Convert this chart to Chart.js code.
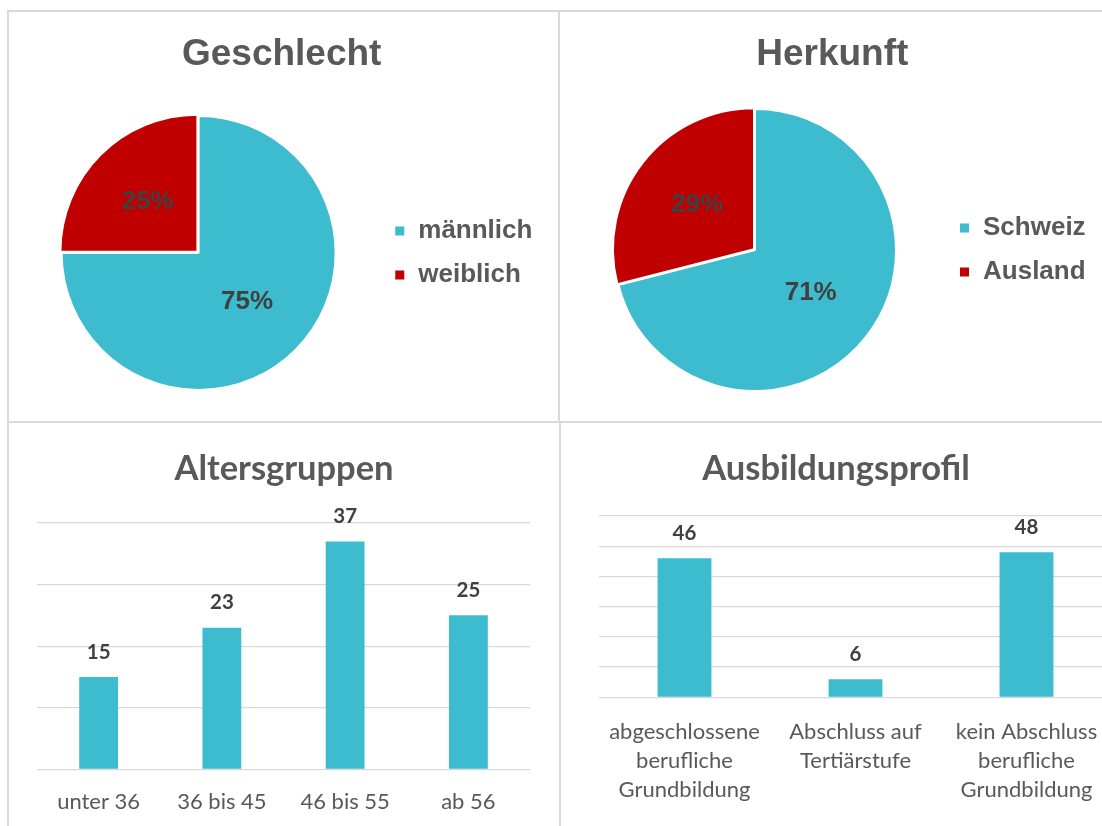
<!DOCTYPE html>
<html>
<head>
<meta charset="utf-8">
<script src="https://cdn.jsdelivr.net/npm/chart.js@4.4.1/dist/chart.umd.min.js"></script>
<style>
  html, body { margin: 0; padding: 0; background: #fff; overflow: hidden; width: 1102px; height: 826px; }
  .box { position: absolute; }
  .line { position: absolute; background: #d9d9d9; }
</style>
</head>
<body>
<div class="line" style="left:8px;top:10px;width:1094px;height:2px"></div>
<div class="line" style="left:7px;top:10px;width:2px;height:816px"></div>
<div class="line" style="left:558px;top:10px;width:2px;height:412px"></div>
<div class="line" style="left:559px;top:422px;width:2px;height:404px"></div>
<div class="line" style="left:8px;top:421px;width:1094px;height:2px"></div>

<div class="box" style="left:9px;top:12px;width:550px;height:410px"><canvas id="geschlecht"></canvas></div>
<div class="box" style="left:561px;top:12px;width:550px;height:410px"><canvas id="herkunft"></canvas></div>
<div class="box" style="left:9px;top:424px;width:550px;height:402px"><canvas id="alter"></canvas></div>
<div class="box" style="left:560px;top:424px;width:552px;height:402px"><canvas id="ausbildung"></canvas></div>

<script>
const TEAL = '#3dbbcf';
const RED = '#c00000';

const geschlechtLabels = ['männlich', 'weiblich'];
const geschlechtValues = [75, 25];
const herkunftLabels = ['Schweiz', 'Ausland'];
const herkunftValues = [71, 29];

const altersLabels = ['unter 36', '36 bis 45', '46 bis 55', 'ab 56'];
const altersValues = [15, 23, 37, 25];
const ausbildungLabels = [
    ['abgeschlossene', 'berufliche', 'Grundbildung'],
    ['Abschluss auf', 'Tertiärstufe'],
    ['kein Abschluss', 'berufliche', 'Grundbildung']
];
const ausbildungValues = [46, 6, 48];

// draws the numbers on the slices / above the bars
const valueLabels = {
    id: 'valueLabels',
    afterDatasetsDraw(chart, args, opts) {
        let ctx = chart.ctx;
        let meta = chart.getDatasetMeta(0);
        let data = chart.data.datasets[0].data;
        ctx.save();
        ctx.font = opts.font;
        ctx.fillStyle = opts.color;
        ctx.textAlign = 'center';
        ctx.textBaseline = 'middle';
        meta.data.forEach((el, i) => {
            let p;
            if (chart.config.type === 'pie') {
                p = el.tooltipPosition();
            } else {
                p = {x: el.x, y: el.y - opts.gap};
            }
            ctx.fillText(data[i] + (opts.suffix || ''), p.x, p.y);
        });
        ctx.restore();
    }
};

function pieChart(id, title, labels, values, radius, offset, titleBottom, padLeft, padRight) {
    let ctx = document.getElementById(id).getContext('2d');
    return new Chart(ctx, {
        type: 'pie',
        data: {
            labels: labels,
            datasets: [{
                data: values,
                backgroundColor: [TEAL, RED],
                borderColor: '#ffffff',
                borderWidth: 2,
                offset: [0, offset]
            }]
        },
        options: {
            responsive: true,
            maintainAspectRatio: false,
            animation: false,
            events: [],
            radius: radius,
            layout: {padding: {top: 0, bottom: 0, left: padLeft, right: padRight}},
            plugins: {
                title: {
                    display: true,
                    text: title,
                    color: '#595959',
                    font: {family: 'Liberation Sans', size: 37, weight: 'bold'},
                    padding: {top: 20.8, bottom: titleBottom}
                },
                legend: {
                    position: 'right',
                    fullSize: false,
                    labels: {
                        boxWidth: 11,
                        boxHeight: 11,
                        padding: 18,
                        color: '#595959',
                        font: {family: 'Liberation Sans', size: 26, weight: 'bold'}
                    }
                },
                tooltip: {enabled: false},
                valueLabels: {font: 'bold 26px "Liberation Sans"', color: '#404040', suffix: '%'}
            }
        },
        plugins: [valueLabels]
    });
}

function barChart(id, title, labels, values, max, leftW, rightW, bottom, titleBottom, tickPad) {
    let ctx = document.getElementById(id).getContext('2d');
    let scales = {
        x: {
            grid: {display: false},
            border: {display: false},
            ticks: {
                color: '#595959',
                font: {family: 'Lato', size: 22, lineHeight: 1.32},
                padding: tickPad,
                maxRotation: 0,
                autoSkip: false
            },
            afterFit: (s) => { s.height = bottom; }
        },
        y: {
            min: 0,
            max: max,
            ticks: {display: false, stepSize: 10},
            border: {display: false},
            grid: {color: '#d9d9d9', lineWidth: 1.3, drawTicks: false},
            afterFit: (s) => { s.width = leftW; }
        }
    };
    if (rightW > 0) {
        scales.y2 = {
            position: 'right',
            ticks: {display: false},
            grid: {display: false},
            border: {display: false},
            afterFit: (s) => { s.width = rightW; }
        };
    }
    return new Chart(ctx, {
        type: 'bar',
        data: {
            labels: labels,
            datasets: [{
                data: values,
                backgroundColor: TEAL,
                barPercentage: 0.315,
                categoryPercentage: 1
            }]
        },
        options: {
            responsive: true,
            maintainAspectRatio: false,
            animation: false,
            events: [],
            scales: scales,
            plugins: {
                title: {
                    display: true,
                    text: title,
                    color: '#595959',
                    font: {family: 'Lato', size: 34.5, weight: 'bold'},
                    padding: {top: 23.9, bottom: titleBottom}
                },
                legend: {display: false},
                tooltip: {enabled: false},
                valueLabels: {font: 'bold 20.5px Lato', color: '#404040', gap: 25}
            }
        },
        plugins: [valueLabels]
    });
}

pieChart('geschlecht', 'Geschlecht', geschlechtLabels, geschlechtValues, 137, 7, 6.8, 12, 16.6);
pieChart('herkunft', 'Herkunft', herkunftLabels, herkunftValues, 141, 5, 0.8, 8, 15.4);
barChart('alter', 'Altersgruppen', altersLabels, altersValues, 40, 28, 29, 56.7, 33.7, 10);
barChart('ausbildung', 'Ausbildungsprofil', ausbildungLabels, ausbildungValues, 60, 39, 0, 128.7, 26.7, 12);
</script>
</body>
</html>
